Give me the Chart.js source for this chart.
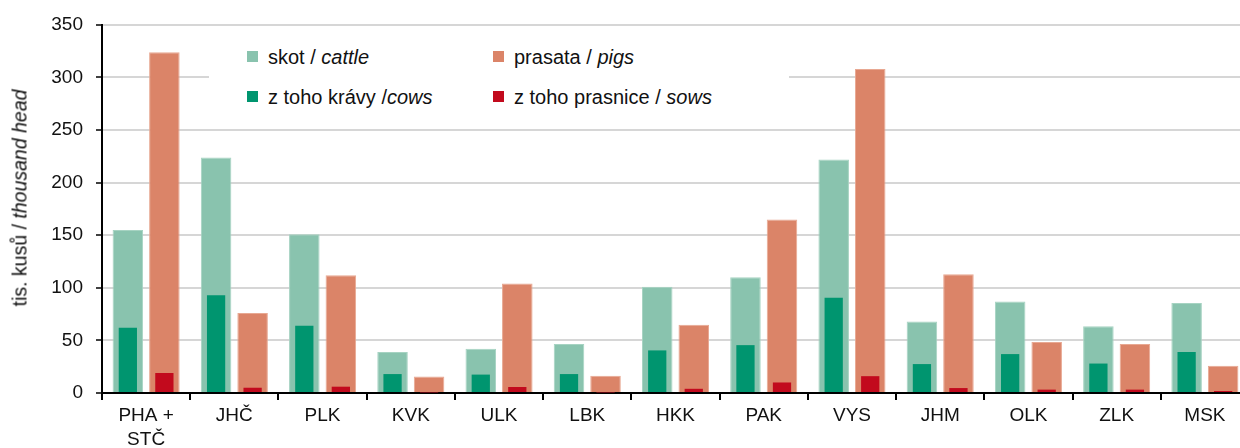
<!DOCTYPE html>
<html>
<head>
<meta charset="utf-8">
<script src="https://cdn.jsdelivr.net/npm/chart.js@4"></script>
<style>
  body { margin: 0; overflow: hidden; background: #fff; font-family: "Liberation Sans", Arial, sans-serif; color: #111; }
  #wrap { position: relative; width: 1250px; height: 448px; }
  #ytitle { position: absolute; left: 20px; top: 198px; transform: translate(-50%, -50%) rotate(-90deg); white-space: nowrap; font-size: 19.5px; }
  #legend { position: absolute; left: 209px; top: 38px; width: 580px; height: 80px; background: #fff; }
  .item { position: absolute; font-size: 20px; line-height: 22px; white-space: nowrap; }
  .sw { position: absolute; width: 11px; height: 11px; }
</style>
</head>
<body>
<div id="wrap">
  <canvas id="chart" width="1250" height="448"></canvas>
  <div id="ytitle">tis. kusů / <i>thousand head</i></div>
  <div id="legend"></div>
</div>
<script>
// regions
const regions = [['PHA +', 'STČ'], 'JHČ', 'PLK', 'KVK', 'ULK', 'LBK', 'HKK', 'PAK', 'VYS', 'JHM', 'OLK', 'ZLK', 'MSK'];

// thousand head
const cattle = [155, 224, 151, 39, 42, 46.5, 101, 110, 222, 68, 87, 63.5, 85.5];
const cows   = [62, 93, 64, 18, 17.5, 18, 40.5, 45.5, 90.5, 27.5, 37, 28, 39];
const pigs   = [324, 76, 112, 15.7, 104, 16.4, 65, 165, 308, 113, 48.5, 46.5, 26];
const sows   = [19, 5, 6, 0.5, 5.7, 0.5, 4, 10, 16, 4.7, 3.2, 3.2, 1.9];

const yTicks = [0, 50, 100, 150, 200, 250, 300, 350];

const colCattle = '#89c3ae';
const colCows = '#00956f';
const colPigs = '#db8468';
const colSows = '#c20a1d';

// html legend (mixed italic text)
const legendItems = [
    { text: 'skot / <i>cattle</i>', color: colCattle, x: 38, y: 18.5 },
    { text: 'prasata / <i>pigs</i>', color: colPigs, x: 284, y: 18.5 },
    { text: 'z toho krávy /<i>cows</i>', color: colCows, x: 38, y: 58.5 },
    { text: 'z toho prasnice / <i>sows</i>', color: colSows, x: 284, y: 58.5 },
];
const lg = document.getElementById('legend');
legendItems.forEach(it => {
    const sw = document.createElement('div');
    sw.className = 'sw';
    sw.style.background = it.color;
    sw.style.left = it.x + 'px';
    sw.style.top = (it.y - 5.5) + 'px';
    lg.appendChild(sw);
    const t = document.createElement('div');
    t.className = 'item';
    t.innerHTML = it.text;
    t.style.left = (it.x + 21) + 'px';
    t.style.top = (it.y - 11) + 'px';
    lg.appendChild(t);
});

const font = { family: '"Liberation Sans", Arial, sans-serif', size: 19, lineHeight: 1.25 };

// the "of which" bars share a slot (stack) with their total, but values are not summed (y.stacked = false)
new Chart(document.getElementById('chart').getContext('2d'), {
    type: 'bar',
    data: {
        labels: regions,
        datasets: [
            { label: 'skot / cattle', data: cattle, backgroundColor: colCattle, borderColor: '#a6d3c2', borderWidth: 1,
              stack: 'a', order: 2, barPercentage: 0.836, categoryPercentage: 0.828 },
            { label: 'prasata / pigs', data: pigs, backgroundColor: colPigs, borderColor: '#e8a892', borderWidth: 1,
              stack: 'b', order: 2, barPercentage: 0.836, categoryPercentage: 0.828 },
            { label: 'z toho krávy / cows', data: cows, backgroundColor: colCows,
              stack: 'a', order: 1, barPercentage: 0.5, categoryPercentage: 0.828 },
            { label: 'z toho prasnice / sows', data: sows, backgroundColor: colSows,
              stack: 'b', order: 1, barPercentage: 0.5, categoryPercentage: 0.828 },
        ]
    },
    options: {
        responsive: false,
        animation: false,
        devicePixelRatio: 1,
        layout: { padding: { top: 22, right: 1, left: 0, bottom: 0 } },
        plugins: { legend: { display: false }, tooltip: { enabled: false } },
        scales: {
            x: {
                offset: true,
                grid: { offset: true, drawOnChartArea: false, drawTicks: true, tickLength: 7, color: '#000', lineWidth: 2 },
                border: { color: '#000', width: 2 },
                ticks: { color: '#111', font: font, padding: 4, maxRotation: 0, autoSkip: false },
                afterFit: s => { s.height = 55; }
            },
            y: {
                stacked: false,
                min: 0,
                max: 350,
                afterBuildTicks: s => { s.ticks = yTicks.map(v => ({ value: v })); },
                grid: { color: '#d6d6d6', lineWidth: 2, tickColor: '#000', tickLength: 6, tickWidth: 1.5 },
                border: { color: '#000', width: 2 },
                ticks: { color: '#111', font: font, padding: 13 },
                afterFit: s => { s.width = 102; }
            }
        }
    }
});
</script>
</body>
</html>
